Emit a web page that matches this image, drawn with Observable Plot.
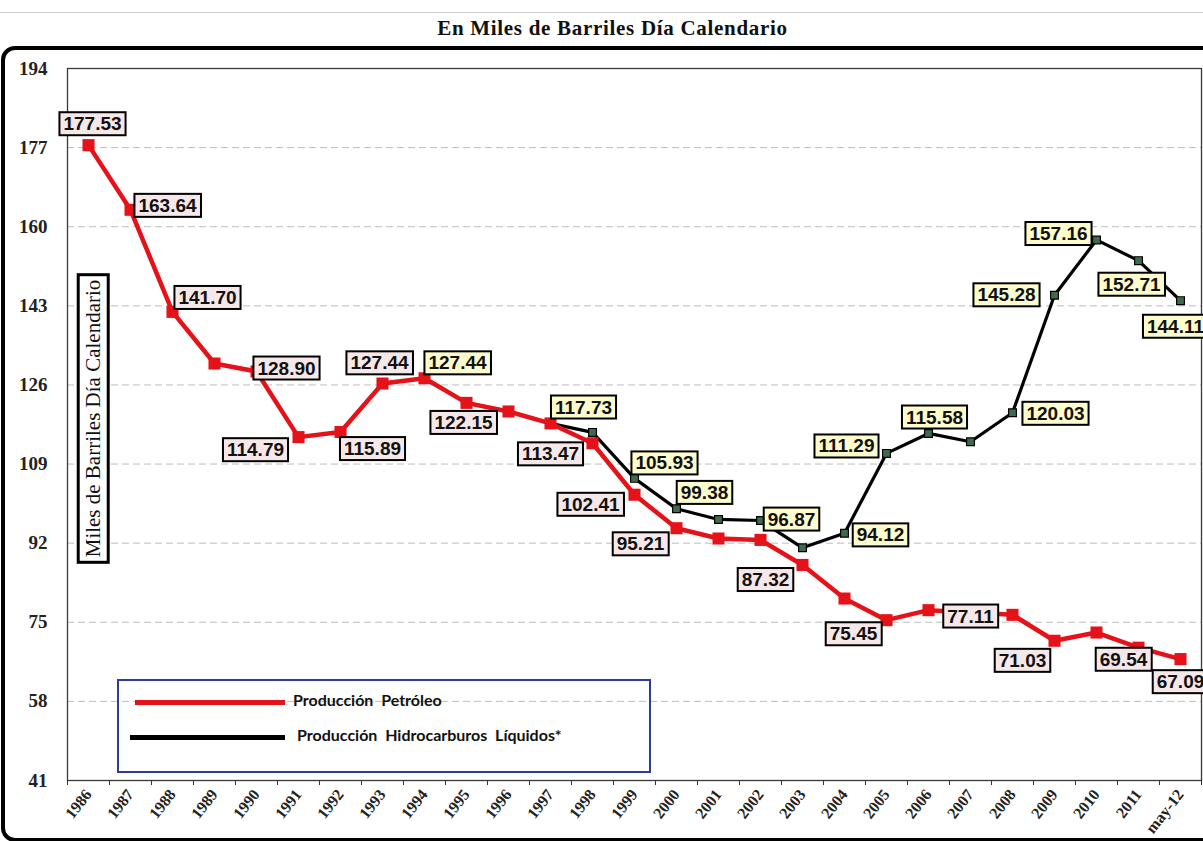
<!DOCTYPE html>
<html>
<head>
<meta charset="utf-8">
<script src="https://cdn.jsdelivr.net/npm/d3@7"></script>
<script src="https://cdn.jsdelivr.net/npm/@observablehq/plot@0.6"></script>
<style>
  html, body { margin: 0; padding: 0; background: #fff; overflow: hidden; }
  #page { position: relative; width: 1203px; height: 841px; overflow: hidden; }
  #title { position: relative; height: 47px; }
  #title .rule { position: absolute; left: 0; right: 0; top: 12px; border-top: 1px solid #cfcfcf; }
  #title .txt { position: absolute; left: 0; right: -22px; top: 16px; text-align: center;
    font-family: "Liberation Serif", serif; font-weight: bold; font-size: 21px; letter-spacing: 0.7px; color: #111; }
  #outer { position: absolute; left: 1px; top: 46px; width: 1240px; height: 788px;
    border: 4px solid #000; border-radius: 14px; pointer-events: none; }
  #legend { position: absolute; left: 117px; top: 679px; width: 530px; height: 90px;
    border: 2px solid #2f3b9c; }
  #legend .ln { position: absolute; height: 5px; }
  #legend .lt { position: absolute; font-family: Lato, "Open Sans", sans-serif; font-weight: bold;
    font-size: 16px; color: #111; white-space: pre; }
</style>
</head>
<body>
<div id="page">
  <div id="title"><div class="rule"></div><div class="txt">En Miles de Barriles Día Calendario</div></div>
  <div id="chart"></div>
  <div id="outer"></div>
  <div id="legend"></div>
</div>
<script>
// ---- data ----
const categories = ["1986","1987","1988","1989","1990","1991","1992","1993","1994","1995","1996","1997","1998","1999","2000","2001","2002","2003","2004","2005","2006","2007","2008","2009","2010","2011","may-12"];
const produccionPetroleo = [177.53,163.64,141.70,130.6,128.90,114.79,115.89,126.3,127.44,122.15,120.3,117.73,113.47,102.41,95.21,93.0,92.7,87.32,80.1,75.45,77.6,77.11,76.6,71.03,72.8,69.54,67.09];
const produccionHidrocarburos = [null,null,null,null,null,null,null,null,127.44,122.15,120.3,117.73,115.8,105.93,99.38,97.1,96.87,91.0,94.12,111.29,115.58,113.8,120.03,145.28,157.16,152.71,144.11];
const yTicks = [41,58,75,92,109,126,143,160,177,194];
const seriesNames = ["Producción  Petróleo", "Producción  Hidrocarburos  Líquidos*"];
const yTitle = "Miles de Barriles Día Calendario";

// categories whose value is labelled, per series
const petroleoLabelled = ["1986","1987","1988","1990","1991","1992","1994","1995","1998","1999","2000","2003","2005","2007","2009","2011","may-12"];
const hidroLabelled = ["1994","1997","1999","2000","2002","2004","2005","2006","2008","2009","2010","2011","may-12"];

// ---- layout of the value labels (offsets in px from the point) ----
const petroleoLabelOffset = {"1986":[4,-21],"1987":[37,-4],"1988":[35,-14],"1990":[30,-3],"1991":[-43,13],"1992":[32,17],"1994":[-45,-15],"1995":[-3,20],"1998":[-42,11],"1999":[-44,10],"2000":[-36,16],"2003":[-37,15],"2005":[-33,14],"2007":[0,4],"2009":[-32,20],"2011":[-15,12],"may-12":[0,23]};
const hidroLabelOffset = {"1994":[33,-15],"1997":[33,-16],"1999":[30,-15],"2000":[28,-16],"2002":[31,-1],"2004":[36,2],"2005":[-40,-7],"2006":[6,-16],"2008":[43,1],"2009":[-48,0],"2010":[-38,-6],"2011":[-7,24],"may-12":[-5,26]};

const pet = categories.map((c, i) => ({i, cat: c, v: produccionPetroleo[i]}));
const hid = categories.map((c, i) => ({i, cat: c, v: produccionHidrocarburos[i]})).filter(d => d.v != null);

const RED = "#e5121a";
const labelFont = {fontFamily: "Liberation Sans, Arial, sans-serif", fontWeight: "bold", fontSize: 19, fill: "#111"};

function labelMarks(rows, names, offsets, cls) {
  return names.map(n => {
    const row = rows.find(d => d.cat === n);
    const [dx, dy] = offsets[n];
    return Plot.text([row], {x: "i", y: "v", text: d => d.v.toFixed(2), dx, dy, className: cls, ariaLabel: cls, ...labelFont});
  });
}

const bounds = d3.range(categories.length + 1).map(i => i - 0.5);

const chart = Plot.plot({
  width: 1203,
  height: 794,
  marginTop: 21,
  marginBottom: 61,
  marginLeft: 67,
  marginRight: 2,
  x: {type: "linear", domain: [-0.5, categories.length - 0.5]},
  y: {domain: [41, 194]},
  style: {background: "transparent"},
  marks: [
    Plot.gridY(yTicks.slice(1, -1), {stroke: "#bdbdbd", strokeOpacity: 1, strokeDasharray: "7,4"}),
    Plot.frame({stroke: "#3a3a3a", strokeWidth: 1.3}),
    Plot.axisY(yTicks, {tickSize: 0, tickPadding: 20, fontFamily: "Liberation Serif, serif", fontWeight: "bold", fontSize: 19, fill: "#222", label: null}),
    Plot.axisX(bounds, {tickSize: 5, tickFormat: () => "", stroke: "#333", label: null}),
    Plot.axisX(d3.range(categories.length), {tickSize: 0, tickPadding: 11, tickRotate: -52, tickFormat: i => categories[i],
      fontFamily: "Liberation Serif, serif", fontWeight: "bold", fontSize: 16, fill: "#222", label: null}),
    Plot.text([yTitle], {frameAnchor: "left", dx: 26, dy: -6, rotate: -90, textAnchor: "middle", text: d => d,
      className: "ytitle", ariaLabel: "ytitle",
      fontFamily: "Liberation Serif, serif", fontSize: 21, fill: "#111"}),
    Plot.line(hid, {x: "i", y: "v", stroke: "#000", strokeWidth: 3.2}),
    Plot.dot(hid, {x: "i", y: "v", symbol: "square", r: 4.4, fill: "#3f6b4c", stroke: "#000", strokeWidth: 1.2}),
    Plot.line(pet, {x: "i", y: "v", stroke: RED, strokeWidth: 4.5}),
    Plot.dot(pet, {x: "i", y: "v", symbol: "square", r: 6.8, fill: RED}),
    ...labelMarks(pet, petroleoLabelled, petroleoLabelOffset, "label-pet"),
    ...labelMarks(hid, hidroLabelled, hidroLabelOffset, "label-hid")
  ]
});
document.getElementById("chart").appendChild(chart);

// boxes behind labels
function findTexts(key) {
  const set = new Set();
  chart.querySelectorAll(`.${key}, [aria-label="${key}"]`).forEach(el => {
    if (el.tagName.toLowerCase() === "text") set.add(el);
    else el.querySelectorAll("text").forEach(t => set.add(t));
  });
  return [...set];
}
function boxText(key, fill, strokeWidth, padX, padY) {
  findTexts(key).forEach(t => {
    const bb = t.getBBox();
    const r = document.createElementNS("http://www.w3.org/2000/svg", "rect");
    r.setAttribute("x", bb.x - padX);
    r.setAttribute("y", bb.y - padY);
    r.setAttribute("width", bb.width + 2 * padX);
    r.setAttribute("height", bb.height + 2 * padY);
    r.setAttribute("fill", fill);
    r.setAttribute("stroke", "#000");
    r.setAttribute("stroke-width", strokeWidth);
    if (t.getAttribute("transform")) r.setAttribute("transform", t.getAttribute("transform"));
    t.parentNode.insertBefore(r, t);
  });
}
boxText("label-pet", "#f6e7e8", 2, 4, 1);
boxText("label-hid", "#fdfccc", 2, 4, 1);
boxText("ytitle", "#fff", 3, 5, 3);

// legend
const legend = document.getElementById("legend");
const colors = [RED, "#000"];
const lineLeft = [16, 11], lineWidth = [150, 155], textLeft = [174, 178], rowTop = [19, 54];
seriesNames.forEach((name, k) => {
  const ln = document.createElement("div");
  ln.className = "ln";
  ln.style.left = lineLeft[k] + "px"; ln.style.width = lineWidth[k] + "px";
  ln.style.top = rowTop[k] + "px"; ln.style.background = colors[k];
  legend.appendChild(ln);
  const lt = document.createElement("div");
  lt.className = "lt";
  lt.style.left = textLeft[k] + "px"; lt.style.top = (rowTop[k] - 10) + "px";
  lt.textContent = name;
  legend.appendChild(lt);
});
</script>
</body>
</html>
